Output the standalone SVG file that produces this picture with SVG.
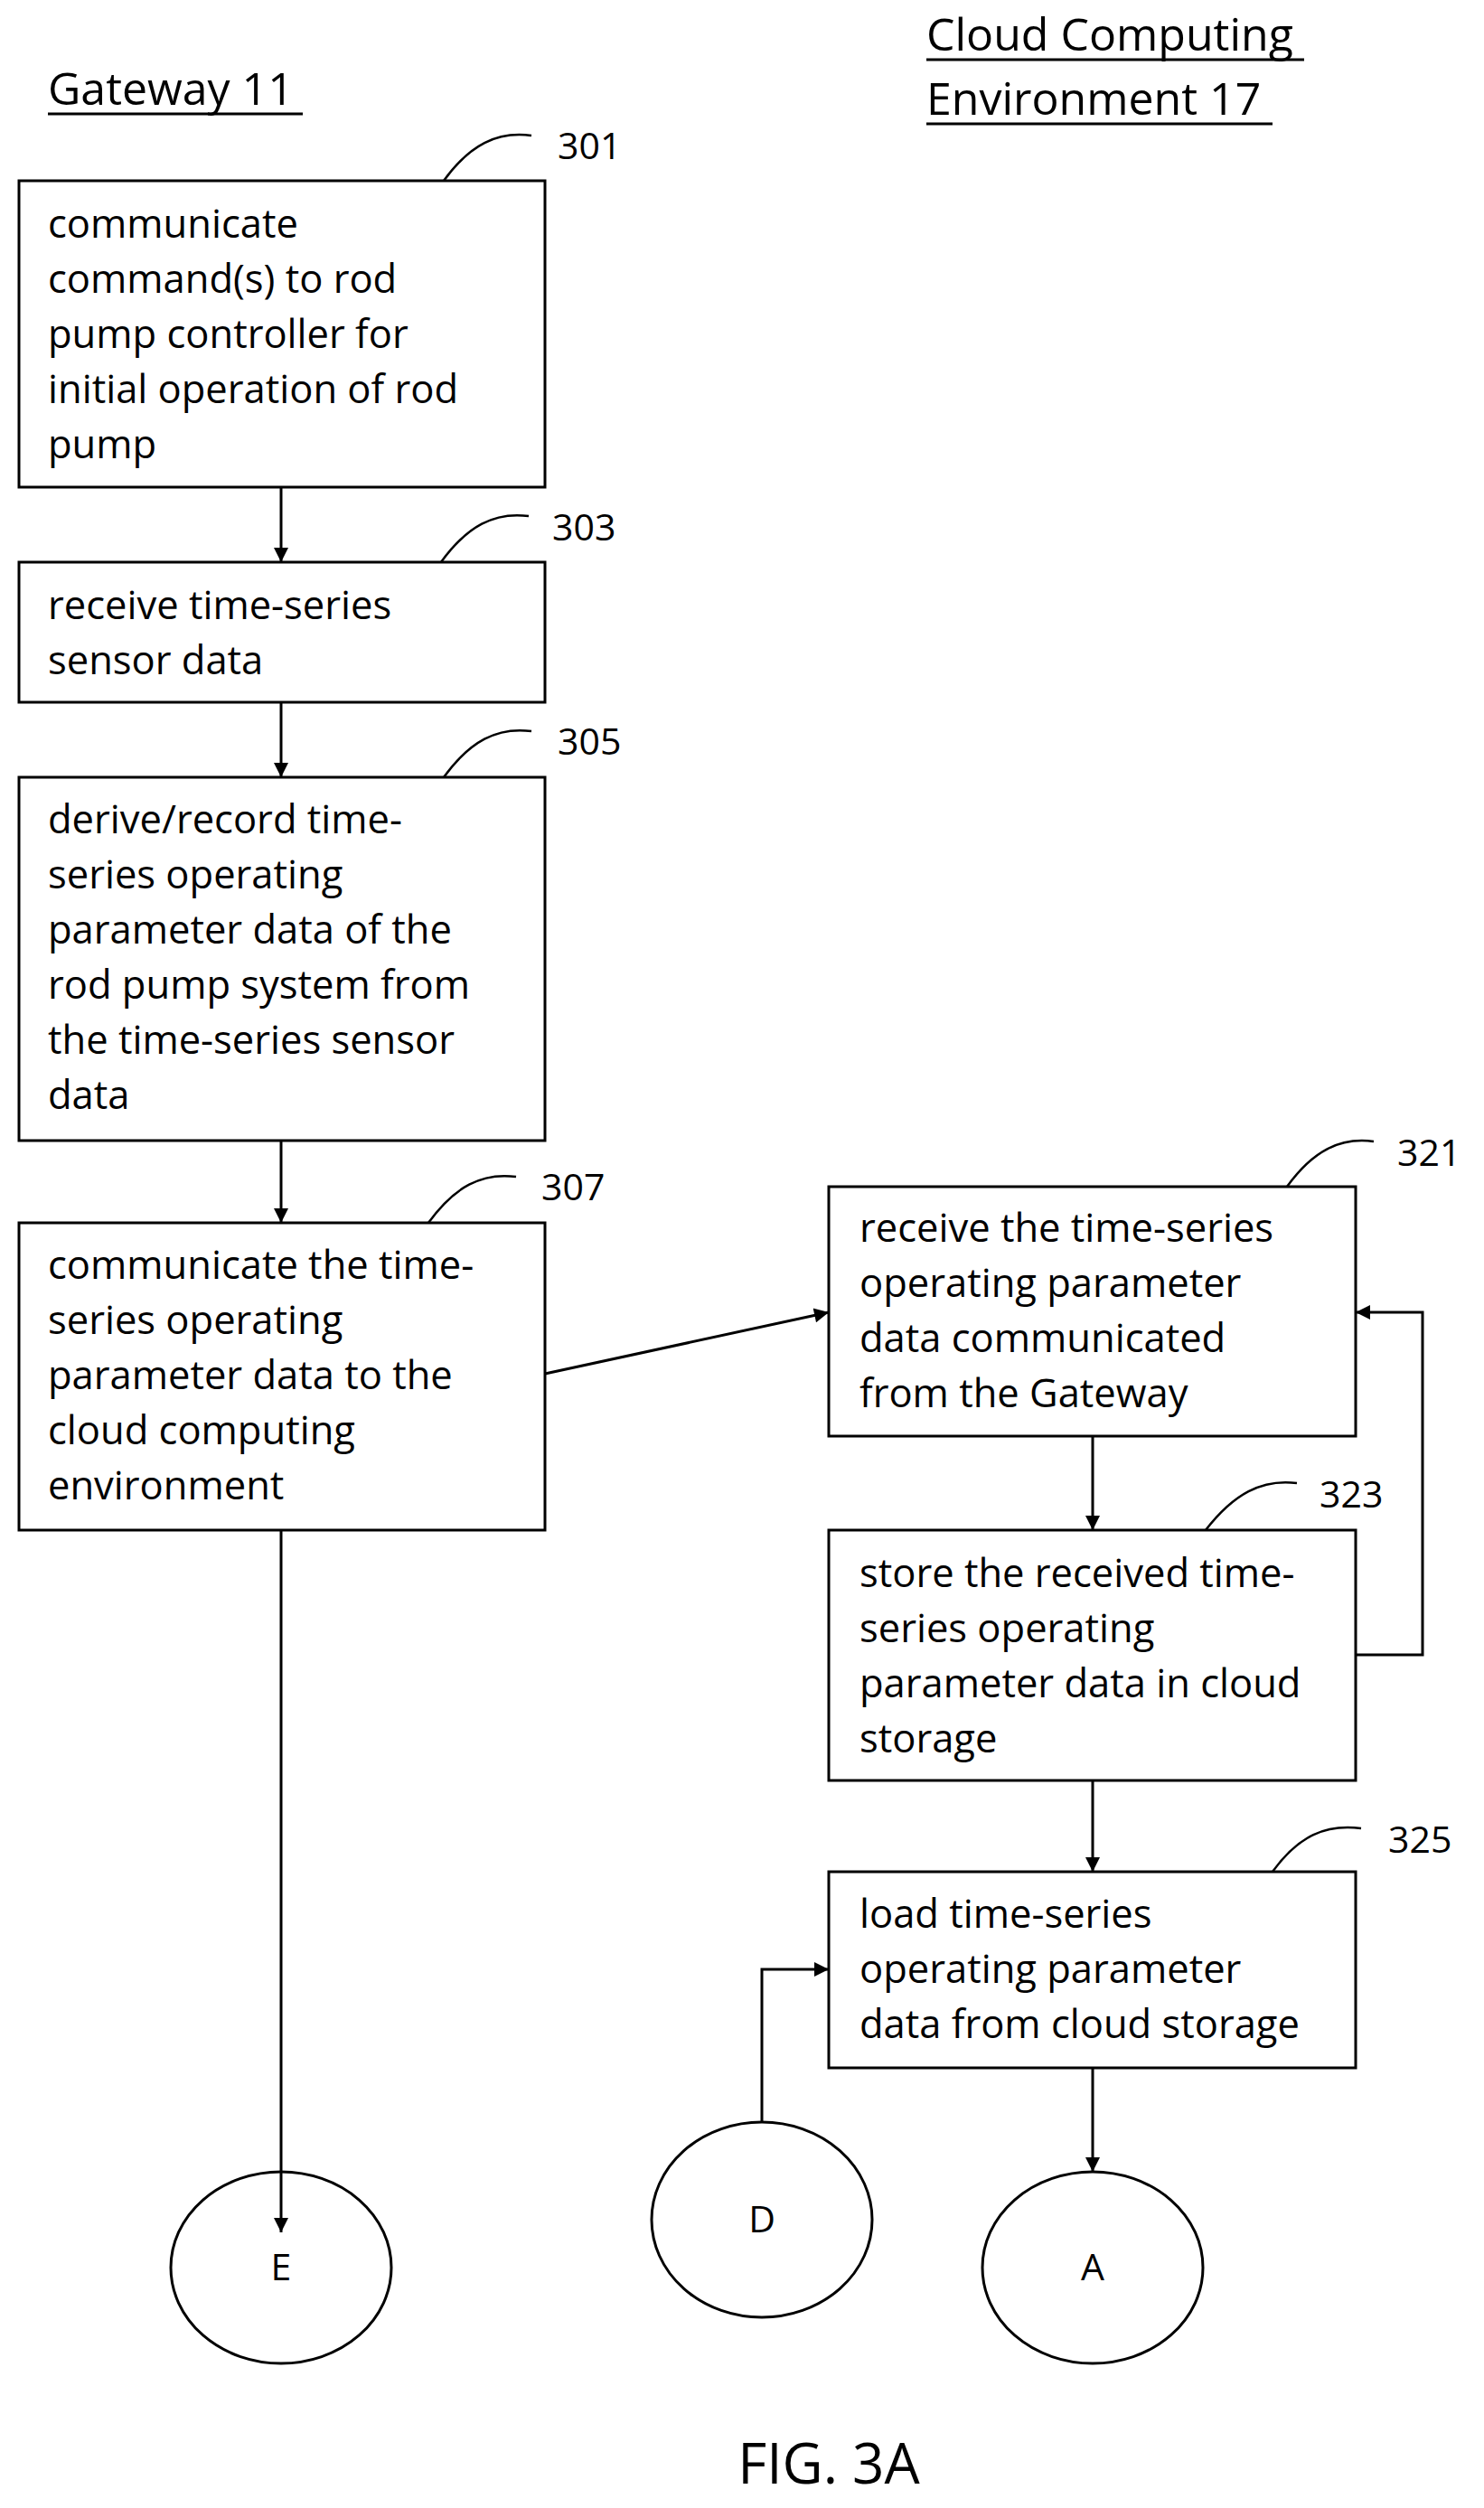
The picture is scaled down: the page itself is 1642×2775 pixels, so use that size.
<svg xmlns="http://www.w3.org/2000/svg" width="1642" height="2775" viewBox="0 0 1642 2775">
<defs>
<marker id="ah" viewBox="0 0 10 10" refX="10" refY="5" markerWidth="22" markerHeight="16" markerUnits="userSpaceOnUse" orient="auto"><path d="M0,0 L10,5 L0,10 z" fill="#000"/></marker>
<style>
text{font-family:"Open Sans","Liberation Sans",sans-serif;fill:#000}
.t{font-size:43.5px}
.h{font-size:50px}
.n{font-size:41px}
rect,ellipse{fill:#fff;stroke:#000;stroke-width:3}
.c{fill:none;stroke:#000;stroke-width:2.5}
.e{fill:none;stroke:#000;stroke-width:3;marker-end:url(#ah)}
</style>
</defs>
<rect width="1642" height="2775" fill="#fff" style="stroke:none"/>
<g id="titles">
<text class="h" x="53" y="116">Gateway 11</text><line x1="53" y1="126" x2="335" y2="126" stroke="#000" stroke-width="3"/>
<text class="h" x="1025" y="56">Cloud Computing</text><line x1="1025" y1="66" x2="1443" y2="66" stroke="#000" stroke-width="3"/>
<text class="h" x="1025" y="127">Environment 17</text><line x1="1025" y1="137" x2="1408" y2="137" stroke="#000" stroke-width="3"/>
<text x="917" y="2748" text-anchor="middle" style="font-size:62px">FIG. 3A</text>
</g>
<g id="n301"><rect x="21" y="200" width="582" height="339"/>
<text class="t" x="53"><tspan x="53" y="263">communicate</tspan><tspan x="53" y="324">command(s) to rod</tspan><tspan x="53" y="385">pump controller for</tspan><tspan x="53" y="446">initial operation of rod</tspan><tspan x="53" y="507">pump</tspan></text>
<path class="c" d="M491,200 C520,160 550,145 588,150"/><text class="n" x="617" y="176">301</text></g>
<g id="n303"><rect x="21" y="622" width="582" height="155"/>
<text class="t"><tspan x="53" y="685">receive time-series</tspan><tspan x="53" y="746">sensor data</tspan></text>
<path class="c" d="M488,622 C517,582 547,566 585,571"/><text class="n" x="611" y="598">303</text></g>
<g id="n305"><rect x="21" y="860" width="582" height="402"/>
<text class="t"><tspan x="53" y="922">derive/record time-</tspan><tspan x="53" y="983">series operating</tspan><tspan x="53" y="1044">parameter data of the</tspan><tspan x="53" y="1105">rod pump system from</tspan><tspan x="53" y="1166">the time-series sensor</tspan><tspan x="53" y="1227">data</tspan></text>
<path class="c" d="M491,860 C520,820 550,804 588,809"/><text class="n" x="617" y="835">305</text></g>
<g id="n307"><rect x="21" y="1353" width="582" height="340"/>
<text class="t"><tspan x="53" y="1415">communicate the time-</tspan><tspan x="53" y="1476">series operating</tspan><tspan x="53" y="1537">parameter data to the</tspan><tspan x="53" y="1598">cloud computing</tspan><tspan x="53" y="1659">environment</tspan></text>
<path class="c" d="M474,1353 C503,1313 533,1297 571,1302"/><text class="n" x="599" y="1328">307</text></g>
<g id="n321"><rect x="917" y="1313" width="583" height="276"/>
<text class="t"><tspan x="951" y="1374">receive the time-series</tspan><tspan x="951" y="1435">operating parameter</tspan><tspan x="951" y="1496">data communicated</tspan><tspan x="951" y="1557">from the Gateway</tspan></text>
<path class="c" d="M1424,1313 C1453,1273 1483,1258 1520,1263"/><text class="n" x="1546" y="1290">321</text></g>
<g id="n323"><rect x="917" y="1693" width="583" height="277"/>
<text class="t"><tspan x="951" y="1756">store the received time-</tspan><tspan x="951" y="1817">series operating</tspan><tspan x="951" y="1878">parameter data in cloud</tspan><tspan x="951" y="1939">storage</tspan></text>
<path class="c" d="M1334,1693 C1365,1653 1396,1636 1435,1641"/><text class="n" x="1460" y="1668">323</text></g>
<g id="n325"><rect x="917" y="2071" width="583" height="217"/>
<text class="t"><tspan x="951" y="2133">load time-series</tspan><tspan x="951" y="2194">operating parameter</tspan><tspan x="951" y="2255">data from cloud storage</tspan></text>
<path class="c" d="M1408,2071 C1437,2031 1467,2018 1506,2023"/><text class="n" x="1536" y="2050">325</text></g>
<g id="E"><ellipse cx="311" cy="2509" rx="122" ry="106"/><text class="n" x="311" y="2523" text-anchor="middle">E</text></g>
<g id="D"><ellipse cx="843" cy="2456" rx="122" ry="108"/><text class="n" x="843" y="2470" text-anchor="middle">D</text></g>
<g id="A"><ellipse cx="1209" cy="2509" rx="122" ry="106"/><text class="n" x="1209" y="2523" text-anchor="middle">A</text></g>
<g id="connectors">
<path class="e" d="M311,539 V622"/>
<path class="e" d="M311,777 V860"/>
<path class="e" d="M311,1262 V1353"/>
<path class="e" d="M603,1520 L917,1452"/>
<path class="e" d="M311,1693 V2470"/>
<path class="e" d="M1209,1589 V1693"/>
<path class="e" d="M1500,1831 H1574 V1452 H1500"/>
<path class="e" d="M1209,1970 V2071"/>
<path class="e" d="M1209,2288 V2403"/>
<path class="e" d="M843,2348 V2179 H917"/>
</g>
</svg>
